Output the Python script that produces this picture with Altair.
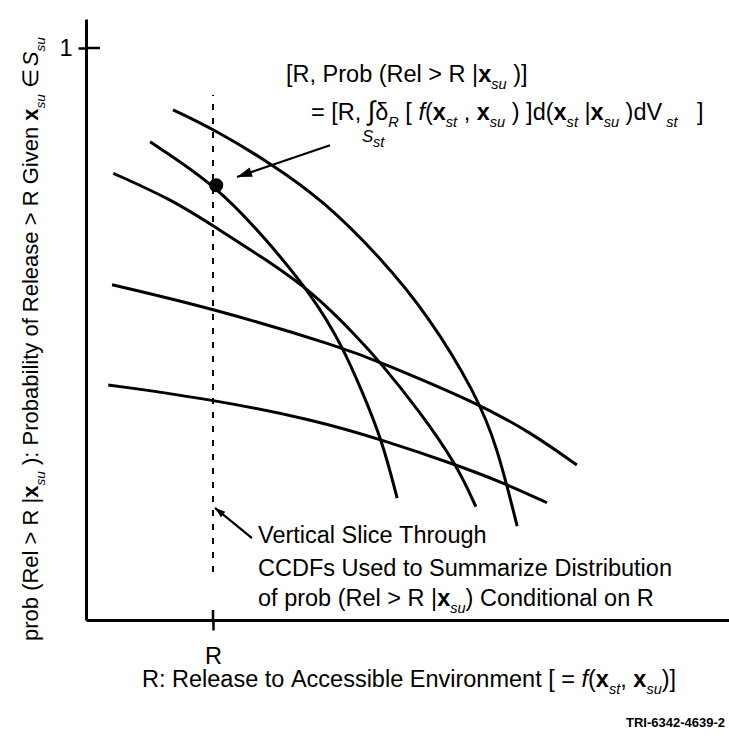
import altair as alt
import pandas as pd

# ---------------- data ----------------
curve_a_x = [1.37, 2.03, 2.90, 3.73, 4.63, 5.42, 6.13, 6.47, 6.79]
curve_a_y = [0.892, 0.857, 0.799, 0.734, 0.635, 0.528, 0.397, 0.306, 0.164]
curve_b_x = [1.01, 2.06, 2.85, 3.58, 4.05, 4.35, 4.66, 4.90]
curve_b_y = [0.836, 0.759, 0.664, 0.565, 0.476, 0.399, 0.315, 0.213]
curve_c_x = [0.43, 1.37, 2.03, 2.85, 3.58, 4.27, 4.63, 5.26, 5.84, 6.14]
curve_c_y = [0.781, 0.734, 0.687, 0.629, 0.572, 0.495, 0.451, 0.364, 0.271, 0.198]
curve_d_x = [0.41, 2.02, 4.05, 4.63, 6.13, 6.99, 7.73]
curve_d_y = [0.586, 0.544, 0.476, 0.451, 0.381, 0.329, 0.271]
curve_e_x = [0.35, 2.02, 3.58, 4.66, 5.84, 6.57, 7.26]
curve_e_y = [0.411, 0.385, 0.350, 0.315, 0.271, 0.240, 0.205]

slice_r = 2.0
slice_y = [0.084, 0.918]
dot_x, dot_y = [2.05], [0.760]

arrow_tail_x = [3.843, 2.614]
arrow_tail_y = [0.830, 0.143]
arrow_head_x = [2.378, 2.031]
arrow_head_y = [0.7745, 0.196]
arrow_angle = [251, 309]
arrow_size = [900, 440]

x_tick_values = [2.0]
y_tick_values = [1.0]

# ---------------- layout ----------------
W, H = 643, 601
XMAX, YMAX = 10.126, 1.0507
PXU, PYU = W / XMAX, H / YMAX
LEFT, TOP = 86, 19


def px2x(px):
    return (px - LEFT) / PXU


def py2y(py):
    return (TOP + H - py) / PYU


FONT = "Liberation Sans"
BASE = 23.5
SUBF = 0.62
SUBDY = 0.30
NB = "\u00a0"

AW = {' ': 278, '(': 333, ')': 333, ',': 278, '-': 333, '.': 278, ':': 278, '=': 584,
      '>': 584, '[': 278, ']': 278, '|': 260,
      'A': 667, 'C': 722, 'D': 722, 'E': 667, 'F': 611, 'G': 778, 'I': 278, 'P': 667,
      'R': 722, 'S': 667, 'T': 611, 'V': 667,
      'a': 556, 'b': 556, 'c': 500, 'd': 556, 'e': 556, 'f': 278, 'g': 556, 'h': 556,
      'i': 222, 'l': 222, 'm': 833, 'n': 556, 'o': 556, 'p': 556, 'r': 333, 's': 500,
      't': 278, 'u': 556, 'v': 500, 'x': 500, 'y': 500, 'z': 500,
      'δ': 556, '∫': 274, 'ƒ': 556, '∈': 713}


def seg_size(style, base):
    if style == "s":
        return base * SUBF
    if style == "big":
        return base * 1.15
    return base


def seg_width(text, style, base):
    size = seg_size(style, base)
    tot = 0
    for c in text:
        w = AW.get(c, 556)
        if style == "b" and c == "x":
            w = 556
        tot += w
    return tot * size / 1000


def layout(segs, x0, y0, vertical=False, base=BASE):
    rows = []
    pos = 0.0
    for text, style in segs:
        size = seg_size(style, base)
        lead = len(text) - len(text.lstrip(" "))
        body = text.strip(" ").replace(" ", NB)
        start = pos + lead * AW[' '] * size / 1000
        off = SUBDY * base if style == "s" else 0
        if vertical:
            px, py = x0 + off, y0 - start
        else:
            px, py = x0 + start, y0 + off
        if body:
            rows.append({"t": body, "x": px2x(px), "y": py2y(py), "size": size,
                         "style": style, "vert": vertical})
        pos += seg_width(text, style, base)
    return rows


top1 = [("[R, Prob (Rel > R |", "n"), ("x", "b"), ("su", "s"), (" )]", "n")]
top2 = [("= [R, ", "n"), ("∫", "big"), ("δ", "n"), ("R", "s"), (" [ ", "n"), ("f", "i"),
        ("(", "n"), ("x", "b"), ("st", "s"), (" , ", "n"), ("x", "b"), ("su", "s"),
        (" ) ]d(", "n"), ("x", "b"), ("st", "s"), (" |", "n"), ("x", "b"), ("su", "s"),
        (" )dV", "n"), (" st", "s"), ("   ]", "n")]
low1 = [("Vertical Slice Through", "n")]
low2 = [("CCDFs Used to Summarize Distribution", "n")]
low3 = [("of prob (Rel > R |", "n"), ("x", "b"), ("su", "s"), (") Conditional on R", "n")]
xlab = [("R: Release to Accessible Environment [ = ", "n"), ("f", "i"), ("(", "n"),
        ("x", "b"), ("st", "s"), (", ", "n"), ("x", "b"), ("su", "s"), (")]", "n")]
ylab = [("prob (Rel > R |", "n"), ("x", "b"), ("su", "s"),
        (" ): Probability of Release > R Given ", "n"), ("x", "b"), ("su", "s"),
        (" ∈ ", "n"), ("S", "i"), ("su", "s")]

rows = []
rows += layout(top1, 286, 82)
rows += layout(top2, 311, 120)
rows += layout(low1, 258, 543)
rows += layout(low2, 258, 576)
rows += layout(low3, 258, 606)
rows += layout(xlab, 142, 687)
rows += layout(ylab, 38, 641, vertical=True, base=22)
# small S_st under the integral sign
for r in layout([("S", "i")], 362, 142, base=BASE * 0.72):
    rows.append(r)
for r in layout([("st", "s")], 373, 140):
    rows.append(r)
text_df = pd.DataFrame(rows)

# ---------------- chart ----------------
curves = []
for name, xs_, ys_ in [("A", curve_a_x, curve_a_y), ("B", curve_b_x, curve_b_y),
                       ("C", curve_c_x, curve_c_y), ("D", curve_d_x, curve_d_y),
                       ("E", curve_e_x, curve_e_y)]:
    for i, (xv, yv) in enumerate(zip(xs_, ys_)):
        curves.append({"curve": name, "order": i, "x": xv, "y": yv})
curve_df = pd.DataFrame(curves)

xs = alt.Scale(domain=[0, XMAX], nice=False, zero=False)
ys = alt.Scale(domain=[0, YMAX], nice=False, zero=False)

x_axis = alt.Axis(values=x_tick_values, labelExpr="'R'", title=None, grid=False,
                  domainWidth=3, domainColor="black", tickColor="black", tickWidth=2.5,
                  tickSize=10, labelFont=FONT, labelFontSize=BASE, labelColor="black",
                  labelPadding=14)
y_axis = alt.Axis(values=y_tick_values, format="d", title=None, grid=False,
                  domainWidth=3, domainColor="black", tickColor="black", tickWidth=2.5,
                  tickSize=8, labelFont=FONT, labelFontSize=BASE, labelColor="black",
                  labelPadding=6)

lines = alt.Chart(curve_df).mark_line(color="black", strokeWidth=3,
                                      interpolate="basis").encode(
    x=alt.X("x:Q", scale=xs, axis=x_axis),
    y=alt.Y("y:Q", scale=ys, axis=y_axis),
    detail="curve:N",
    order="order:Q",
)

slice_df = pd.DataFrame({"x": [slice_r], "y": [slice_y[0]], "y2": [slice_y[1]]})
slice_rule = alt.Chart(slice_df).mark_rule(color="black", strokeWidth=2,
                                           strokeDash=[6, 8]).encode(
    x=alt.X("x:Q", scale=xs), y=alt.Y("y:Q", scale=ys), y2="y2:Q")

dot = alt.Chart(pd.DataFrame({"x": dot_x, "y": dot_y})).mark_circle(
    color="black", size=200, opacity=1).encode(
    x=alt.X("x:Q", scale=xs), y=alt.Y("y:Q", scale=ys))

arr_df = pd.DataFrame({"x": arrow_tail_x, "y": arrow_tail_y, "x2": arrow_head_x,
                       "y2": arrow_head_y, "angle": arrow_angle, "size": arrow_size})
shafts = alt.Chart(arr_df).mark_rule(color="black", strokeWidth=2.2).encode(
    x=alt.X("x:Q", scale=xs), y=alt.Y("y:Q", scale=ys), x2="x2:Q", y2="y2:Q")
heads = alt.Chart(arr_df).mark_point(
    shape="M0,0L0.33,1L-0.33,1Z", filled=True, color="black", opacity=1, strokeWidth=0
).encode(
    x=alt.X("x2:Q", scale=xs), y=alt.Y("y2:Q", scale=ys),
    angle=alt.Angle("angle:Q", scale=None), size=alt.Size("size:Q", scale=None))

# inward halves of the crossing ticks
tick_df = pd.DataFrame({"x": [0.0], "x2": [14 / PXU], "y": [y_tick_values[0]]})
ytick_in = alt.Chart(tick_df).mark_rule(color="black", strokeWidth=2.5).encode(
    x=alt.X("x:Q", scale=xs), x2="x2:Q", y=alt.Y("y:Q", scale=ys))
xtick_df = pd.DataFrame({"x": [x_tick_values[0]], "y": [0.0], "y2": [10 / PYU]})
xtick_in = alt.Chart(xtick_df).mark_rule(color="black", strokeWidth=2.5).encode(
    x=alt.X("x:Q", scale=xs), y=alt.Y("y:Q", scale=ys), y2="y2:Q")

text_layers = []
style_props = {"n": {}, "big": {}, "b": {"fontWeight": "bold"},
               "s": {"fontStyle": "italic"}, "i": {"fontStyle": "italic"}}
for st, props in style_props.items():
    for vert in [False, True]:
        sub = text_df[(text_df["style"] == st) & (text_df["vert"] == vert)]
        if len(sub) == 0:
            continue
        text_layers.append(
            alt.Chart(sub).mark_text(align="left", baseline="alphabetic", font=FONT,
                                     color="black", angle=270 if vert else 0, **props)
            .encode(x=alt.X("x:Q", scale=xs), y=alt.Y("y:Q", scale=ys), text="t:N",
                    size=alt.Size("size:Q", scale=None)))

tri_df = pd.DataFrame({"x": [px2x(725)], "y": [py2y(727)], "t": ["TRI-6342-4639-2"]})
tri = alt.Chart(tri_df).mark_text(align="right", baseline="alphabetic", font=FONT,
                                  fontSize=13, fontWeight="bold", color="black").encode(
    x=alt.X("x:Q", scale=xs), y=alt.Y("y:Q", scale=ys), text="t:N")

chart = alt.layer(lines, slice_rule, dot, shafts, heads, ytick_in, xtick_in, tri,
                  *text_layers).properties(
    width=W, height=H,
    autosize=alt.AutoSizeParams(type="none"),
    padding={"left": LEFT, "top": TOP, "right": 0, "bottom": 738 - TOP - H},
    background="white",
).configure_view(stroke=None)

chart.save("out.html", embed_options={"renderer": "svg", "actions": False})
